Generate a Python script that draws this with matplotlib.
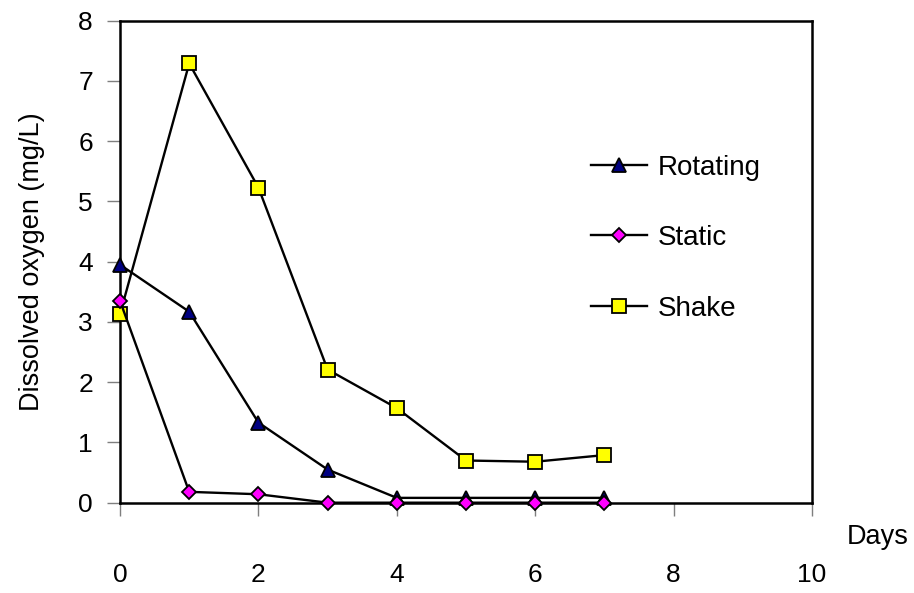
import matplotlib
matplotlib.use("Agg")
import matplotlib.pyplot as plt

plt.rcParams['font.family'] = ['Liberation Sans', 'DejaVu Sans']

days = [0, 1, 2, 3, 4, 5, 6, 7]
rotating = [3.95, 3.17, 1.33, 0.55, 0.08, 0.08, 0.08, 0.08]
static = [3.35, 0.18, 0.14, 0.0, 0.0, 0.0, 0.0, 0.0]
shake = [3.13, 7.29, 5.23, 2.21, 1.57, 0.70, 0.68, 0.79]

x_ticks = [0, 2, 4, 6, 8, 10]
y_ticks = [0, 1, 2, 3, 4, 5, 6, 7, 8]

fig = plt.figure(figsize=(9.14, 5.93), dpi=100)
ax = fig.add_axes([0.1313, 0.1523, 0.8884 - 0.1313, 0.9651 - 0.1523])

line_kw = dict(color='black', lw=1.7, markeredgecolor='black',
               markeredgewidth=1.3, clip_on=False)
ax.plot(days, rotating, marker='^', ms=10, markerfacecolor='#000080',
        label='Rotating', zorder=4, **line_kw)
ax.plot(days, static, marker='D', ms=7, markerfacecolor='#FF00FF',
        label='Static', zorder=5, **line_kw)
ax.plot(days, shake, marker='s', ms=9.5, markerfacecolor='#FFFF00',
        label='Shake', zorder=3, **line_kw)

ax.set_xlim(0, 10)
ax.set_ylim(0, 8)
ax.set_xticks(x_ticks)
ax.set_yticks(y_ticks)

for sp in ax.spines.values():
    sp.set_linewidth(1.8)
    sp.set_color('black')

ax.tick_params(axis='both', direction='out', length=9.5, width=1.0,
               color='#7f7f7f', labelsize=19)
ax.tick_params(axis='x', pad=34)
ax.tick_params(axis='y', pad=10)

ax.set_ylabel('Dissolved oxygen (mg/L)', fontsize=19.5, labelpad=24)
fig.text(847 / 914, 1 - 537 / 593, 'Days', fontsize=19.5, ha='left', va='center')

leg = ax.legend(loc='upper left', bbox_to_anchor=(0.665, 0.745), frameon=False,
                fontsize=20, handlelength=2.0, handletextpad=0.4,
                labelspacing=1.6, borderaxespad=0.0)

fig.savefig('out.png', dpi=100)
